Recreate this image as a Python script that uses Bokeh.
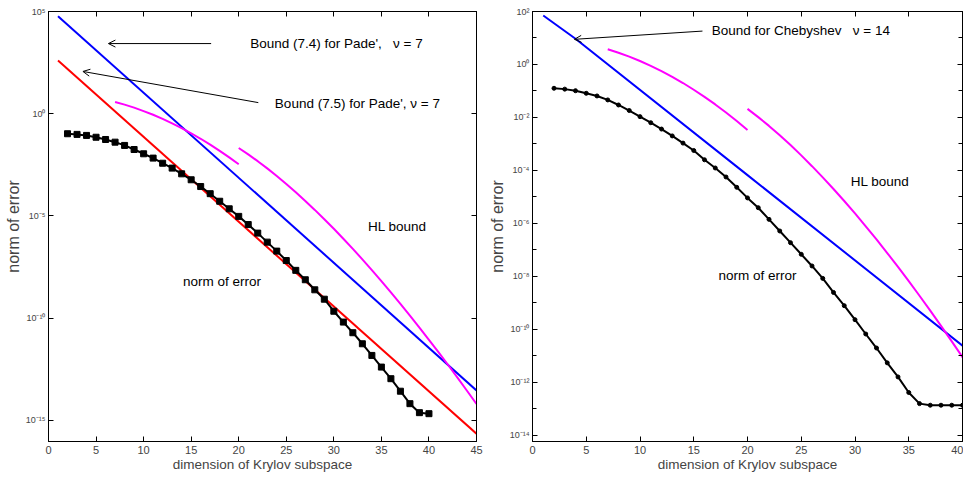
from bokeh.plotting import figure
from bokeh.layouts import row
from bokeh.models import FixedTicker, LinearAxis, LogAxis, Range1d, Label, Arrow, OpenHead
from bokeh.embed import file_html
from bokeh.resources import INLINE

# ---------------- data ----------------
dims = list(range(2, 41))
err_pade = [1.05e-1, 9.77e-2, 8.71e-2, 7.08e-2, 5.50e-2, 4.07e-2, 2.82e-2, 1.78e-2,
            1.10e-2, 6.76e-3, 3.80e-3, 2.19e-3, 1.15e-3, 5.89e-4, 2.75e-4, 1.23e-4,
            5.25e-5, 2.24e-5, 9.55e-6, 3.80e-6, 1.45e-6, 5.25e-7, 1.91e-7, 6.61e-8,
            2.19e-8, 7.59e-9, 2.45e-9, 8.51e-10, 2.19e-10, 6.46e-11, 1.95e-11, 5.62e-12,
            1.51e-12, 4.07e-13, 1.10e-13, 2.69e-14, 6.61e-15, 2.40e-15, 2.14e-15]
err_cheb = [1.26e-1, 1.17e-1, 1.02e-1, 8.13e-2, 6.46e-2, 4.57e-2, 2.95e-2, 1.82e-2,
            1.07e-2, 6.31e-3, 3.63e-3, 2.00e-3, 1.07e-3, 5.62e-4, 2.51e-4, 1.23e-4,
            5.62e-5, 2.29e-5, 9.12e-6, 3.89e-6, 1.41e-6, 5.13e-7, 1.86e-7, 6.76e-8,
            2.45e-8, 8.32e-9, 2.45e-9, 7.76e-10, 2.29e-10, 6.61e-11, 1.95e-11, 5.37e-12,
            1.58e-12, 4.07e-13, 1.55e-13, 1.35e-13, 1.35e-13, 1.35e-13, 1.35e-13]

hl_x1 = list(range(7, 21))
hl_y1 = [3.75, 2.78, 1.98, 1.35, 0.889, 0.561, 0.340, 0.199, 0.111, 0.0597,
         0.0309, 0.0153, 0.00731, 0.00336]
hl_x2 = list(range(20, 46))
hl_y2 = [2.10e-2, 1.026e-2, 4.78e-3, 2.12e-3, 9.02e-4, 3.69e-4, 1.44e-4, 5.43e-5,
         1.98e-5, 6.95e-6, 2.36e-6, 7.71e-7, 2.46e-7, 7.55e-8, 2.25e-8, 6.52e-9,
         1.84e-9, 5.05e-10, 1.34e-10, 3.48e-11, 8.81e-12, 2.18e-12, 5.28e-13,
         1.23e-13, 2.83e-14, 6.40e-15]

pade74_x = [1, 45]
pade74_y = [5.9e4, 2.95e-14]
pade75_x = [1, 45]
pade75_y = [3.98e2, 2.24e-16]
cheb_x = [1, 4, 20, 40]
cheb_y = [70.8, 9.33, 6.61e-5, 2.40e-11]

x_ticks_left = [0, 5, 10, 15, 20, 25, 30, 35, 40, 45]
x_ticks_right = [0, 5, 10, 15, 20, 25, 30, 35, 40]
y_ticks_left = [1e5, 1e0, 1e-5, 1e-10, 1e-15]
y_labels_left = ["10\u2075", "10\u2070", "10\u207b\u2075", "10\u207b\u00b9\u2070", "10\u207b\u00b9\u2075"]
y_ticks_right = [1e2, 1e0, 1e-2, 1e-4, 1e-6, 1e-8, 1e-10, 1e-12, 1e-14]
y_labels_right = ["10\u00b2", "10\u2070", "10\u207b\u00b2", "10\u207b\u2074", "10\u207b\u2076",
                  "10\u207b\u2078", "10\u207b\u00b9\u2070", "10\u207b\u00b9\u00b2", "10\u207b\u00b9\u2074"]
y_minor_right = [1e1, 1e-1, 1e-3, 1e-5, 1e-7, 1e-9, 1e-11, 1e-13]

# ---------------- styling ----------------
FONT = "Liberation Sans"
BLUE, RED, MAG = "#0000ff", "#ff0000", "#ff00ff"
FRAME_H = 430


def style(p, xt, yt, ylabels, yminor):
    bottom = p.below[0]
    left = p.left[0]
    p.xgrid.visible = False
    p.ygrid.visible = False
    p.outline_line_color = "black"
    p.outline_line_width = 1
    xtick = FixedTicker(ticks=xt, minor_ticks=[])
    ytick = FixedTicker(ticks=yt, minor_ticks=yminor)
    bottom.ticker = xtick
    left.ticker = ytick
    left.major_label_overrides = dict(zip(yt, ylabels))
    top = LinearAxis(ticker=xtick)
    right = LogAxis(ticker=ytick)
    for ax in (top, right):
        ax.major_label_text_font_size = "1px"
        ax.major_label_text_color = None
        ax.major_label_standoff = 0
    p.add_layout(top, "above")
    p.add_layout(right, "right")
    for ax in (bottom, left, top, right):
        ax.major_tick_in = 5
        ax.major_tick_out = 0
        ax.minor_tick_in = 4
        ax.minor_tick_out = 0
        ax.axis_line_color = "black"
        ax.major_tick_line_color = "black"
        ax.minor_tick_line_color = "black"
    bottom.major_label_text_font = FONT
    bottom.major_label_text_font_size = "11px"
    bottom.major_label_standoff = 4
    bottom.axis_label = "dimension of Krylov subspace"
    bottom.axis_label_text_font = FONT
    bottom.axis_label_text_font_size = "13.5px"
    bottom.axis_label_text_font_style = "normal"
    bottom.axis_label_standoff = 0
    left.major_label_text_font = FONT
    left.major_label_text_font_size = "9px"
    left.major_label_standoff = 3
    left.axis_label = "norm of error"
    left.axis_label_text_font = FONT
    left.axis_label_text_font_size = "16px"
    left.axis_label_text_font_style = "normal"
    left.axis_label_standoff = 1


def label(p, x, y, text):
    p.add_layout(Label(x=x, y=y, text=text, text_font=FONT, text_font_size="13.5px",
                       text_baseline="middle", text_align="left", text_color="black"))


def arrow(p, xs, ys, xe, ye):
    p.add_layout(Arrow(x_start=xs, y_start=ys, x_end=xe, y_end=ye, line_width=1,
                       line_color="black",
                       end=OpenHead(size=7, line_width=1, line_color="black")))


# ---------------- left figure ----------------
p1 = figure(frame_width=428, frame_height=FRAME_H, y_axis_type="log",
            x_range=Range1d(0, 45), y_range=Range1d(9.33e-17, 1e5),
            output_backend="svg", toolbar_location=None,
            min_border_left=48, min_border_right=8, min_border_top=11, min_border_bottom=34)
style(p1, x_ticks_left, y_ticks_left, y_labels_left, [])
p1.line(pade74_x, pade74_y, line_color=BLUE, line_width=2)
p1.line(pade75_x, pade75_y, line_color=RED, line_width=2)
p1.line(hl_x1, hl_y1, line_color=MAG, line_width=2)
p1.line(hl_x2, hl_y2, line_color=MAG, line_width=2)
p1.line(dims, err_pade, line_color="black", line_width=2)
p1.scatter(dims, err_pade, marker="square", size=6, color="black")

label(p1, 21.2, 2.8e3, "Bound (7.4) for Pade',\u00a0\u00a0 \u03bd = 7")
arrow(p1, 17.1, 2.7e3, 6.3, 2.7e3)
label(p1, 23.8, 3.2, "Bound (7.5) for Pade', \u03bd = 7")
arrow(p1, 22.06, 3.5, 3.62, 117)
label(p1, 33.6, 3.1e-6, "HL bound")
label(p1, 14.13, 6.3e-9, "norm of error")

# ---------------- right figure ----------------
p2 = figure(frame_width=430, frame_height=FRAME_H, y_axis_type="log",
            x_range=Range1d(0, 40), y_range=Range1d(5.75e-15, 1e2),
            output_backend="svg", toolbar_location=None,
            min_border_left=48, min_border_right=1, min_border_top=11, min_border_bottom=34)
style(p2, x_ticks_right, y_ticks_right, y_labels_right, y_minor_right)
p2.line(cheb_x, cheb_y, line_color=BLUE, line_width=2)
p2.line(hl_x1, hl_y1, line_color=MAG, line_width=2)
p2.line(hl_x2, hl_y2, line_color=MAG, line_width=2)
p2.line(dims, err_cheb, line_color="black", line_width=2)
p2.scatter(dims, err_cheb, marker="circle", size=4, color="black")

label(p2, 16.67, 19.5, "Bound for Chebyshev\u00a0\u00a0 \u03bd = 14")
arrow(p2, 15.81, 18.2, 3.9, 8.9)
label(p2, 29.6, 3.9e-5, "HL bound")
label(p2, 17.3, 1.05e-8, "norm of error")

layout = row(p1, p2, spacing=0)
open("out.html", "w").write(file_html(layout, INLINE))
